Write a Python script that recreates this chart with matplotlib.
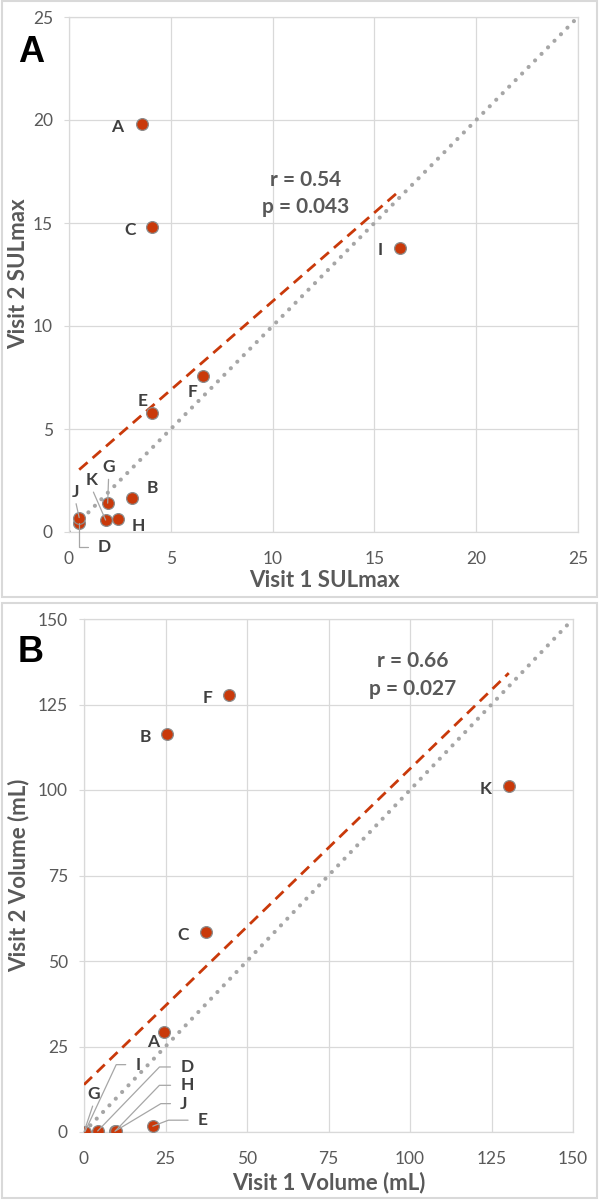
import numpy as np
import matplotlib.pyplot as plt
from matplotlib.patches import Rectangle

plt.rcParams['font.family'] = ['Lato', 'DejaVu Sans']

W, H = 601, 1200

patients = ['A', 'B', 'C', 'D', 'E', 'F', 'G', 'H', 'I', 'J', 'K']

# panel A: SULmax
sul_v1 = [3.6, 3.1, 4.1, 0.5, 4.1, 6.6, 1.9, 2.4, 16.25, 0.5, 1.8]
sul_v2 = [19.8, 1.65, 14.8, 0.43, 5.8, 7.55, 1.4, 0.63, 13.8, 0.7, 0.58]
sul_ticks = [0, 5, 10, 15, 20, 25]
sul_stats = 'r = 0.54\np = 0.043'

# panel B: volume (mL)
vol_v1 = [24.5, 25.5, 37.4, 4.2, 21.1, 44.6, 0.0, 9.5, 0.3, 9.8, 130.3]
vol_v2 = [29.3, 116.4, 58.5, 0.3, 1.7, 127.8, 0.0, 0.2, 0.1, 0.4, 101.3]
vol_ticks = [0, 25, 50, 75, 100, 125, 150]
vol_stats = 'r = 0.66\np = 0.027'

# label offsets in pixels (dx, dy up) and leader style
sul_lab = {
    'A': ((-25, -3), None), 'B': ((20, 10), None), 'C': ((-22, -3), None),
    'E': ((-10, 12), None), 'F': ((-11, -16), None), 'H': ((20, -7), None),
    'I': ((-20, -2), None),
    'J': ((-4, 26), 'down'), 'K': ((-14, 40), 'down'), 'G': ((1, 36), 'down'),
    'D': ((25, -24), 90),
}
vol_lab = {
    'A': ((-11, -10), None), 'B': ((-22, -3), None), 'C': ((-23, -3), None),
    'F': ((-22, -3), None), 'K': ((-23, -3), None),
    'G': ((10, 38), 'down'),
    'I': ((53, 67), 65), 'D': ((89, 64), 46), 'H': ((72, 46), 46),
    'J': ((68, 27), 31), 'E': ((50, 6), 21),
}

RED = '#C9390A'
GRAY_TXT = '#595959'
GRID = '#D9D9D9'


def fx(px):
    return px / W


def fy(py):
    return 1 - py / H


def panel(rect_px, x, y, ticks, stats, stats_xy, labels, xlabel, ylabel,
          box, letter, letter_xy, xlab_xy, ylab_xy):
    l, t, r, b = rect_px
    ax = fig.add_axes([fx(l), fy(b), (r - l) / W, (b - t) / H])
    lim = (ticks[0], ticks[-1])
    ax.set_xlim(lim)
    ax.set_ylim(lim)
    ax.set_xticks(ticks)
    ax.set_yticks(ticks)
    ax.grid(True, color=GRID, lw=0.9)
    ax.set_axisbelow(True)
    for s in ax.spines.values():
        s.set_color(GRID)
        s.set_linewidth(0.9)
    ax.tick_params(axis='y', length=3.6, color=GRID, labelcolor=GRAY_TXT,
                   labelsize=12.5, pad=8)
    ax.tick_params(axis='x', length=0, labelcolor=GRAY_TXT, labelsize=12.5, pad=14)

    # identity line
    ax.plot(lim, lim, color='#A6A6A6', lw=3.0, ls=(0, (0.01, 2.2)),
            dash_capstyle='round', zorder=2)
    # linear trendline
    k, c = np.polyfit(x, y, 1)
    xs = np.array([min(x), max(x)])
    ax.plot(xs, k * xs + c, color=RED, lw=2.0, ls=(0, (4, 2.4)), zorder=3)

    ax.scatter(x, y, s=72, c=RED, edgecolors='#8C8C8C', linewidths=0.9,
               zorder=5)

    for name, xi, yi in zip(patients, x, y):
        off, lead = labels[name]
        kw = dict(xy=(xi, yi), xytext=off, textcoords='offset pixels',
                  ha='center', va='center', fontsize=12.5, fontweight='bold',
                  color='#404040', annotation_clip=False, zorder=6)
        if lead == 'down':
            kw['arrowprops'] = dict(arrowstyle='-', color='#A6A6A6', lw=0.9,
                                    relpos=(0.5, 0), shrinkA=1, shrinkB=0)
        elif lead is not None:
            kw['arrowprops'] = dict(arrowstyle='-', color='#A6A6A6', lw=0.9,
                                    relpos=(0, 0.5), shrinkA=5, shrinkB=0,
                                    connectionstyle='angle,angleA=0,angleB=%d,rad=0' % lead)
        ax.annotate(name, **kw)

    ax.text(stats_xy[0], stats_xy[1], stats, ha='center', va='center',
            fontsize=15, fontweight='bold', color=GRAY_TXT, linespacing=1.45)

    bl, bt, br, bb = box
    fig.add_artist(Rectangle((fx(bl), fy(bb)), (br - bl) / W, (bb - bt) / H,
                             transform=fig.transFigure, fill=False,
                             edgecolor=GRID, lw=1.5))
    fig.text(fx(letter_xy[0]), fy(letter_xy[1]), letter, ha='center',
             va='center', fontsize=26, fontweight='bold', color='black',
             family='Liberation Sans')
    fig.text(fx(xlab_xy[0]), fy(xlab_xy[1]), xlabel, ha='center', va='center',
             fontsize=16, fontweight='bold', color=GRAY_TXT)
    fig.text(fx(ylab_xy[0]), fy(ylab_xy[1]), ylabel, ha='center', va='center',
             rotation=90, fontsize=16, fontweight='bold', color=GRAY_TXT)
    return ax


fig = plt.figure(figsize=(W / 100, H / 100), dpi=100)

panel((69, 17, 578, 532), sul_v1, sul_v2, sul_ticks, sul_stats, (11.6, 16.45),
      sul_lab, 'Visit 1 SULmax', 'Visit 2 SULmax',
      (2, 1, 597, 597), 'A', (31, 52), (324, 580), (19, 274))

panel((84, 619, 573, 1132), vol_v1, vol_v2, vol_ticks, vol_stats, (100.8, 133.6),
      vol_lab, 'Visit 1 Volume (mL)', 'Visit 2 Volume (mL)',
      (2, 603, 597, 1198), 'B', (31, 653), (329, 1183), (19, 875))

fig.savefig('out.png', dpi=100)
